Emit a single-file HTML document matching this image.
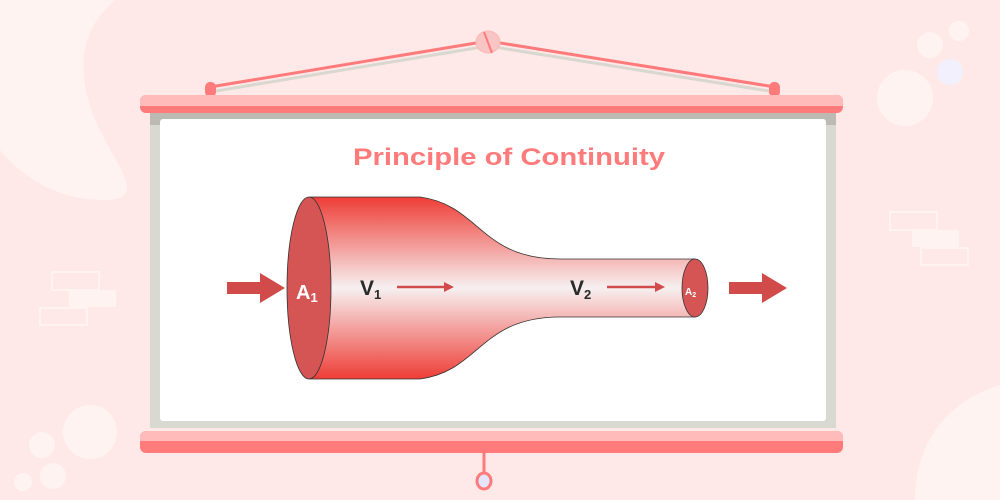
<!DOCTYPE html>
<html><head><meta charset="utf-8"><style>html,body{margin:0;padding:0;background:#ffe8e8}svg{display:block}</style></head>
<body>
<svg width="1000" height="500" viewBox="0 0 1000 500" xmlns="http://www.w3.org/2000/svg" font-family="Liberation Sans, sans-serif">
<defs>
<linearGradient id="pg" x1="0" y1="197" x2="0" y2="379" gradientUnits="userSpaceOnUse">
<stop offset="0" stop-color="#ee3d36"/>
<stop offset="0.5" stop-color="#f7f0f0"/>
<stop offset="1" stop-color="#ee3d36"/>
</linearGradient>
</defs>
<rect width="1000" height="500" fill="#ffe8e8"/>
<path d="M0 0 H115 C80 30 75 70 95 120 C115 165 150 200 105 200 C60 200 25 180 0 150 Z" fill="#fff3f2"/>
<path d="M1000 385 C950 400 915 440 915 500 H1000 Z" fill="#fff3f2"/>
<circle cx="90" cy="432" r="27" fill="#fff3f2"/>
<circle cx="42" cy="445" r="13" fill="#fff3f2"/>
<circle cx="53" cy="476" r="13" fill="#fff3f2"/>
<circle cx="23" cy="482" r="9" fill="#fff3f2"/>
<circle cx="905" cy="98" r="28" fill="#fff3f2"/>
<circle cx="930" cy="45" r="13" fill="#fff3f2"/>
<circle cx="959" cy="31" r="10" fill="#fff3f2"/>
<circle cx="950" cy="72" r="13" fill="#f1f0fc"/>
<rect x="52" y="272" width="47" height="18" fill="none" stroke="#fff3f2" stroke-width="2"/>
<rect x="69" y="290" width="47" height="17" fill="#fff3f2"/>
<rect x="40" y="308" width="47" height="17" fill="none" stroke="#fff3f2" stroke-width="2"/>
<rect x="890" y="212" width="47" height="18" fill="none" stroke="#fff3f2" stroke-width="2"/>
<rect x="912" y="230" width="47" height="17" fill="#fff3f2"/>
<rect x="921" y="248" width="47" height="17" fill="none" stroke="#fff3f2" stroke-width="2"/>
<polyline points="210,92 488,46 775,92" fill="none" stroke="#d9d8d0" stroke-width="3"/>
<polyline points="210,87 488,41 775,87" fill="none" stroke="#ff7b7b" stroke-width="3"/>
<rect x="205" y="82" width="11" height="15" rx="5" fill="#ff7b7b"/>
<rect x="769" y="82" width="11" height="15" rx="5" fill="#ff7b7b"/>
<ellipse cx="488" cy="42" rx="12" ry="11" fill="#f8c4c4" stroke="#fdb8b8" stroke-width="1"/>
<line x1="484" y1="32" x2="492" y2="53" stroke="#ff7b7b" stroke-width="2"/>
<rect x="150" y="110" width="686" height="318" fill="#d8d9d1"/>
<rect x="150" y="110" width="686" height="15" fill="#bcbab2"/>
<rect x="160" y="119" width="666" height="302" rx="3" fill="#ffffff"/>
<rect x="140" y="95" width="703" height="18" rx="6" fill="#ff7b7b"/>
<rect x="140" y="95" width="703" height="11" rx="6" fill="#ffbaba"/>
<rect x="140" y="101" width="703" height="5" fill="#ffbaba"/>
<rect x="140" y="431" width="703" height="22" rx="6" fill="#ff7b7b"/>
<rect x="140" y="431" width="703" height="10" rx="6" fill="#ffbaba"/>
<rect x="140" y="436" width="703" height="5" fill="#ffbaba"/>
<line x1="484" y1="453" x2="484" y2="472" stroke="#ff7b7b" stroke-width="3"/>
<ellipse cx="484" cy="481" rx="7" ry="8" fill="#e4e4fb" stroke="#ff7b7b" stroke-width="3"/>
<text x="353" y="165" font-size="24" font-weight="bold" fill="#ff7b7b" textLength="312" lengthAdjust="spacingAndGlyphs">Principle of Continuity</text>
<path d="M310 197 H420 C480 205 480 259 560 259 H695 V317 H560 C480 317 480 371 420 379 H310 Z" fill="url(#pg)" stroke="#333" stroke-width="0.8"/>
<ellipse cx="309" cy="288" rx="22" ry="91" fill="#d55555" stroke="#333" stroke-width="0.8"/>
<ellipse cx="695" cy="288" rx="13" ry="29" fill="#d55555" stroke="#333" stroke-width="0.8"/>
<text x="296" y="299" font-size="20" font-weight="bold" fill="#fff">A<tspan font-size="13" dy="3">1</tspan></text>
<text x="685" y="295" font-size="10" font-weight="bold" fill="#fff">A<tspan font-size="7" dy="2">2</tspan></text>
<text x="360" y="295" font-size="21" font-weight="bold" fill="#2a2a2a">V<tspan font-size="13" dy="4">1</tspan></text>
<text x="570" y="295" font-size="21" font-weight="bold" fill="#2a2a2a">V<tspan font-size="13" dy="4">2</tspan></text>
<line x1="397" y1="287" x2="448" y2="287" stroke="#d24b4b" stroke-width="2.5"/>
<path d="M444 282 L454 287 L444 292 Z" fill="#d24b4b"/>
<line x1="607" y1="287" x2="659" y2="287" stroke="#d24b4b" stroke-width="2.5"/>
<path d="M655 282 L665 287 L655 292 Z" fill="#d24b4b"/>
<path d="M227 282 H260 V273 L285 288 L260 303 V294 H227 Z" fill="#d24b4b"/>
<path d="M729 282 H762 V273 L787 288 L762 303 V294 H729 Z" fill="#d24b4b"/>
</svg>
</body></html>
